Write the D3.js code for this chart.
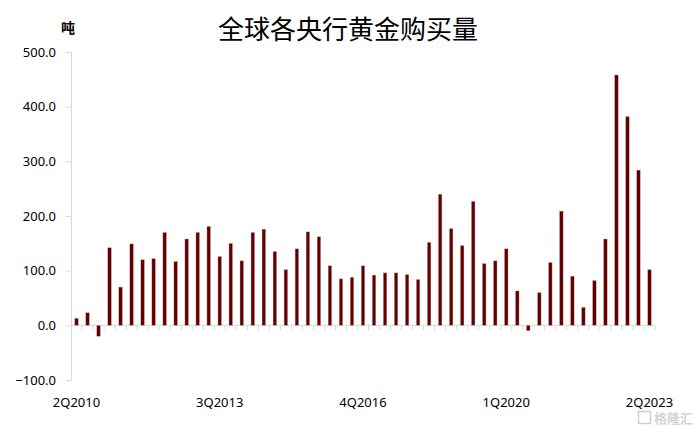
<!DOCTYPE html>
<html>
<head>
<meta charset="utf-8">
<script src="https://cdn.jsdelivr.net/npm/d3@7"></script>
<style>
  body { margin: 0; background: #fff; }
  text { font-family: "Noto Sans", "Noto Sans CJK SC", sans-serif; fill: #000; }
</style>
</head>
<body>
<script>
// quarters 2Q2010 .. 2Q2023
const quarters = [
  "2Q2010","3Q2010","4Q2010",
  "1Q2011","2Q2011","3Q2011","4Q2011",
  "1Q2012","2Q2012","3Q2012","4Q2012",
  "1Q2013","2Q2013","3Q2013","4Q2013",
  "1Q2014","2Q2014","3Q2014","4Q2014",
  "1Q2015","2Q2015","3Q2015","4Q2015",
  "1Q2016","2Q2016","3Q2016","4Q2016",
  "1Q2017","2Q2017","3Q2017","4Q2017",
  "1Q2018","2Q2018","3Q2018","4Q2018",
  "1Q2019","2Q2019","3Q2019","4Q2019",
  "1Q2020","2Q2020","3Q2020","4Q2020",
  "1Q2021","2Q2021","3Q2021","4Q2021",
  "1Q2022","2Q2022","3Q2022","4Q2022",
  "1Q2023","2Q2023"
];
// tonnes bought
const tonnes = [
  13, 23, -20,
  142, 70, 149, 120,
  122, 170, 117, 158,
  170, 181, 126, 150,
  118, 170, 176, 135,
  102, 140, 171, 162,
  109, 85, 88, 109,
  92, 96, 96, 93,
  84, 152, 240, 177,
  146, 227, 113, 118,
  140, 63, -10, 60,
  115, 209, 90, 33,
  82, 158, 458, 382,
  284, 102
];
const yTicks = [-100, 0, 100, 200, 300, 400, 500];
const shownLabels = ["2Q2010", "3Q2013", "4Q2016", "1Q2020", "2Q2023"];

const W = 700, H = 428;
const svg = d3.select("body").append("svg")
  .attr("width", W).attr("height", H);

const x = d3.scaleBand().domain(quarters).range([71, 655]);
const y = d3.scaleLinear().domain([-100, 500]).range([380, 52]);

const gridCol = "#d9d9d9";

// title + unit
svg.append("text")
  .attr("x", 348).attr("y", 39)
  .attr("text-anchor", "middle")
  .style("font-family", "'Noto Sans CJK SC', sans-serif")
  .style("font-size", "26px")
  .text("全球各央行黄金购买量");

svg.append("text")
  .attr("x", 68).attr("y", 33)
  .attr("text-anchor", "middle")
  .style("font-family", "'Noto Sans CJK SC', sans-serif")
  .style("font-size", "14px")
  .style("font-weight", "bold")
  .text("吨");

// y axis
const yAxis = svg.append("g")
  .attr("transform", "translate(71,0)")
  .call(d3.axisLeft(y).tickValues(yTicks).tickSize(5).tickFormat(d3.format(".1f")));
yAxis.select(".domain").attr("stroke", gridCol);
yAxis.selectAll(".tick line").attr("stroke", gridCol);
yAxis.selectAll(".tick text")
  .attr("x", -15)
  .style("font-size", "13px")
  .style("font-family", "'Noto Sans', sans-serif")
  .attr("fill", "#000");

// x axis on the zero line, ticks between categories
const xg = svg.append("g").attr("transform", "translate(0," + y(0) + ")");
xg.append("line")
  .attr("x1", 71).attr("x2", 655)
  .attr("stroke", gridCol);
xg.selectAll("line.tk")
  .data(quarters)
  .enter().append("line")
  .attr("class", "tk")
  .attr("x1", d => x(d) + x.bandwidth())
  .attr("x2", d => x(d) + x.bandwidth())
  .attr("y1", 0).attr("y2", 5)
  .attr("stroke", gridCol);

// bars
svg.selectAll("rect.bar")
  .data(tonnes)
  .enter().append("rect")
  .attr("class", "bar")
  .attr("x", (d, i) => x(quarters[i]) + x.bandwidth() / 2 - 1.8)
  .attr("width", 3.6)
  .attr("y", d => y(Math.max(0, d)))
  .attr("height", d => Math.abs(y(d) - y(0)))
  .attr("fill", "#650000")
  .attr("stroke", "#cbbcbc")
  .attr("stroke-width", 0.4);

// category labels
svg.selectAll("text.xl")
  .data(shownLabels)
  .enter().append("text")
  .attr("class", "xl")
  .attr("x", d => x(d) + x.bandwidth() / 2)
  .attr("y", 407)
  .attr("text-anchor", "middle")
  .style("font-size", "13px")
  .text(d => d);

// watermark
const wm = svg.append("g").attr("transform", "translate(638,410)");
wm.append("rect")
  .attr("x", 0.5).attr("y", 1.5).attr("width", 12).attr("height", 12)
  .attr("fill", "none").attr("stroke", "#cfcfcf").attr("stroke-width", 1.5);
wm.append("text")
  .attr("x", 16).attr("y", 13)
  .style("font-family", "'Noto Sans CJK SC', sans-serif")
  .style("font-size", "13px")
  .style("font-weight", "bold")
  .style("fill", "#d4d4d4")
  .text("格隆汇");
</script>
</body>
</html>
